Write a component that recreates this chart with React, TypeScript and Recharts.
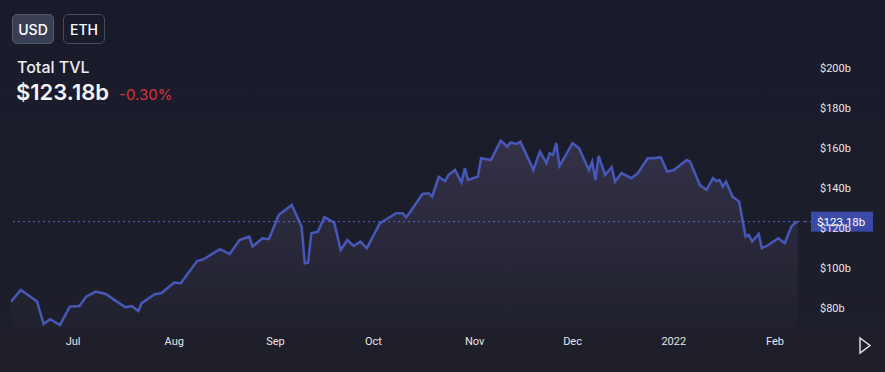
import React from "react";
import { ComposedChart, Area, XAxis, YAxis, ReferenceLine } from "recharts";

// daily TVL snapshots (billions USD)
const dates = [
  "2021-06-12", "2021-06-15", "2021-06-20", "2021-06-22", "2021-06-24", "2021-06-27", "2021-06-30",
  "2021-07-03", "2021-07-05", "2021-07-08", "2021-07-11", "2021-07-14", "2021-07-17", "2021-07-19",
  "2021-07-21", "2021-07-22", "2021-07-26", "2021-07-28", "2021-08-01", "2021-08-03", "2021-08-08",
  "2021-08-10", "2021-08-15", "2021-08-18", "2021-08-21", "2021-08-24", "2021-08-25", "2021-08-28",
  "2021-08-30", "2021-09-02", "2021-09-06", "2021-09-09", "2021-09-10", "2021-09-11", "2021-09-12",
  "2021-09-14", "2021-09-16", "2021-09-19", "2021-09-21", "2021-09-23", "2021-09-25", "2021-09-27",
  "2021-09-29", "2021-10-03", "2021-10-05", "2021-10-08", "2021-10-10", "2021-10-11", "2021-10-12",
  "2021-10-16", "2021-10-18", "2021-10-19", "2021-10-21", "2021-10-23", "2021-10-24", "2021-10-26",
  "2021-10-28", "2021-10-29", "2021-10-30", "2021-11-02", "2021-11-03", "2021-11-06", "2021-11-09",
  "2021-11-11", "2021-11-12", "2021-11-14", "2021-11-15", "2021-11-18", "2021-11-19", "2021-11-21",
  "2021-11-23", "2021-11-24", "2021-11-25", "2021-11-26", "2021-11-27", "2021-12-01", "2021-12-03",
  "2021-12-06", "2021-12-07", "2021-12-08", "2021-12-09", "2021-12-11", "2021-12-13", "2021-12-14",
  "2021-12-16", "2021-12-19", "2021-12-21", "2021-12-24", "2021-12-26", "2021-12-28", "2021-12-30",
  "2022-01-01", "2022-01-05", "2022-01-06", "2022-01-09", "2022-01-11", "2022-01-13", "2022-01-14",
  "2022-01-15", "2022-01-16", "2022-01-17", "2022-01-19", "2022-01-21", "2022-01-23", "2022-01-24",
  "2022-01-25", "2022-01-27", "2022-01-28", "2022-01-30", "2022-02-02", "2022-02-04", "2022-02-06",
  "2022-02-07", "2022-02-08",
];

const tvl = [
  83.2, 89.0, 83.2, 72.0, 74.4, 71.5, 80.7,
  81.0, 85.7, 88.2, 87.0, 83.7, 80.4, 81.0,
  78.5, 82.4, 86.9, 87.4, 92.7, 92.4, 103.5,
  104.4, 109.4, 107.0, 114.0, 115.7, 110.7, 114.9,
  114.4, 126.5, 131.5, 120.7, 102.4, 102.7, 117.4,
  118.2, 125.4, 122.7, 109.0, 114.0, 111.0, 113.2,
  109.9, 122.4, 124.4, 127.4, 127.4, 125.4, 127.4,
  137.0, 137.4, 135.7, 145.5, 143.5, 146.5, 149.0,
  142.7, 149.9, 144.0, 145.7, 154.9, 154.0, 163.7,
  160.7, 162.7, 162.0, 163.2, 152.7, 149.0, 158.2,
  152.4, 157.4, 156.5, 162.5, 151.0, 162.4, 159.9,
  149.0, 153.2, 144.0, 156.0, 146.5, 150.4, 143.2,
  147.4, 144.9, 147.4, 154.9, 154.9, 155.4, 148.2,
  149.0, 154.0, 153.2, 141.5, 139.0, 144.9, 143.5,
  144.0, 140.7, 143.2, 135.7, 133.2, 115.7, 116.5,
  113.2, 117.0, 109.9, 111.5, 114.9, 112.4, 120.7,
  122.4, 123.18,
];

const monthTicks = ["2021-07-01", "2021-08-01", "2021-09-01", "2021-10-01", "2021-11-01", "2021-12-01", "2022-01-01", "2022-02-01"];
const monthNames = ["Jan", "Feb", "Mar", "Apr", "May", "Jun", "Jul", "Aug", "Sep", "Oct", "Nov", "Dec"];
const yTicks = [80, 100, 120, 140, 160, 180, 200];
const current = 123.18;

const DAY = 86400000;
const ts = (d: string) => Date.parse(d + "T00:00:00Z");

const data = dates.map((d, i) => ({ t: ts(d), tvl: tvl[i] }));

const fmtMonth = (t: number) => {
  const d = new Date(t);
  return d.getUTCMonth() === 0 ? String(d.getUTCFullYear()) : monthNames[d.getUTCMonth()];
};

const axisFont = { fill: "#e6e6ea", fontSize: 11, fontFamily: "Roboto, sans-serif" };

const PriceBadge = (props: any) => {
  const { viewBox } = props;
  const x = viewBox.x + viewBox.width + 6;
  const y = viewBox.y;
  return (
    <g>
      <line x1={viewBox.x + viewBox.width} x2={x} y1={y} y2={y} stroke="#5865c0" strokeDasharray="2 3" />
      <rect x={x} y={y - 10} width={62} height={20} fill="#3a4aa6" />
      <text x={x + 6} y={y + 4} fill="#ffffff" fontSize={11.5} fontFamily="Roboto, sans-serif">
        ${current}b
      </text>
    </g>
  );
};

const App = () => {
  return (
    <div
      style={{
        position: "relative",
        width: 885,
        height: 372,
        background: "linear-gradient(#191b2c, #1e1f29)",
        fontFamily: "Inter, sans-serif",
        overflow: "hidden",
      }}
    >
      <style>{"body{margin:0}"}</style>
      <ComposedChart
        width={885}
        height={372}
        data={data}
        margin={{ top: 40, right: 20, bottom: 14, left: 11 }}
      >
        <defs>
          <linearGradient id="tvlFill" x1="0" y1="0" x2="0" y2="1">
            <stop offset="0%" stopColor="#8a78b0" stopOpacity={0.38} />
            <stop offset="100%" stopColor="#8a78b0" stopOpacity={0.04} />
          </linearGradient>
        </defs>
        <XAxis
          dataKey="t"
          type="number"
          scale="time"
          domain={[ts(dates[0]), ts(dates[0]) + 243.2 * DAY]}
          ticks={monthTicks.map(ts)}
          tickFormatter={fmtMonth}
          axisLine={false}
          tickLine={false}
          tickMargin={3}
          height={30}
          tick={axisFont}
          allowDataOverflow
        />
        <YAxis
          orientation="right"
          domain={[70, 214]}
          ticks={yTicks}
          tickFormatter={(v: number) => `$${v}b`}
          axisLine={false}
          tickLine={false}
          tickMargin={9}
          width={60}
          tick={{ ...axisFont, textAnchor: "start" }}
          allowDataOverflow
        />
        <Area
          type="linear"
          dataKey="tvl"
          stroke="#4858b8"
          strokeWidth={2.5}
          fill="url(#tvlFill)"
          isAnimationActive={false}
          dot={false}
        />
        <ReferenceLine
          y={current}
          stroke="#5865c0"
          strokeDasharray="2 3"
          label={<PriceBadge />}
        />
      </ComposedChart>

      <div style={{ position: "absolute", left: 12, top: 14, display: "flex", gap: 9 }}>
        <div
          style={{
            width: 40,
            height: 28,
            borderRadius: 5,
            background: "#394055",
            border: "1px solid #555c70",
            color: "#fff",
            fontSize: 14,
            fontWeight: 500,
            display: "flex",
            alignItems: "center",
            justifyContent: "center",
          }}
        >
          USD
        </div>
        <div
          style={{
            width: 40,
            height: 28,
            borderRadius: 5,
            border: "1px solid #474d60",
            color: "#fff",
            fontSize: 14,
            fontWeight: 500,
            display: "flex",
            alignItems: "center",
            justifyContent: "center",
          }}
        >
          ETH
        </div>
      </div>
      <div style={{ position: "absolute", left: 17, top: 57, color: "#eeeef2", fontSize: 16, fontWeight: 500 }}>
        Total TVL
      </div>
      <div style={{ position: "absolute", left: 16, top: 79, display: "flex", alignItems: "baseline", gap: 10 }}>
        <span style={{ color: "#f4f4f6", fontSize: 22, fontWeight: 600 }}>${current}b</span>
        <span style={{ color: "#d6333d", fontSize: 15 }}>-0.30%</span>
      </div>
      <svg style={{ position: "absolute", left: 858, top: 336 }} width={16} height={20}>
        <polygon points="2,2 12,9.5 2,17" fill="none" stroke="#e6e6ea" strokeWidth={1.4} />
      </svg>
    </div>
  );
};

export default App;
